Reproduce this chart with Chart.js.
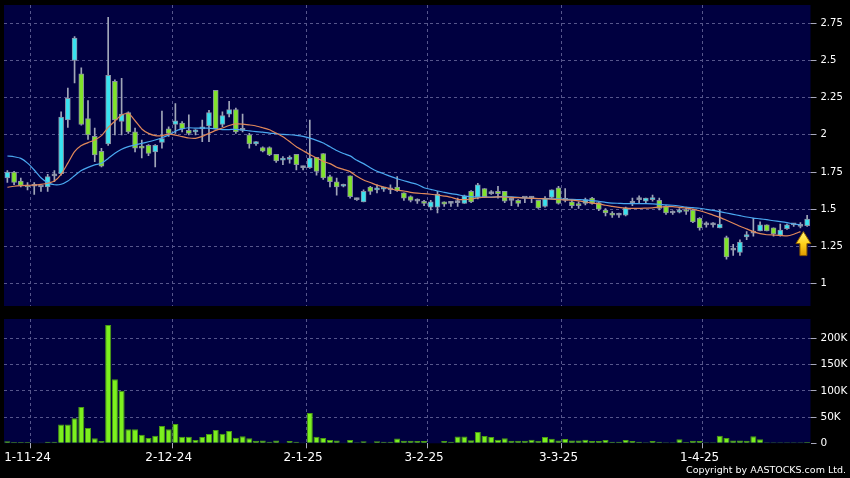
<!DOCTYPE html>
<html>
<head>
<meta charset="utf-8">
<script src="https://cdn.jsdelivr.net/npm/chart.js@4.4.1/dist/chart.umd.min.js"></script>
<style>
    html, body { margin: 0; padding: 0; background: #000; }
    #wrap { position: relative; width: 850px; height: 478px; overflow: hidden; background: #000; }
    #priceChart { position: absolute; left: 0; top: 0; }
    #volumeChart { position: absolute; left: 0; top: 312px; }
    #copy { position: absolute; right: 4px; top: 464px; color: #fff; font: 9.5px "DejaVu Sans", sans-serif; white-space: nowrap; }
</style>
</head>
<body>
<div id="wrap">
    <canvas id="priceChart" width="850" height="312"></canvas>
    <canvas id="volumeChart" width="850" height="166"></canvas>
    <div id="copy">Copyright by AASTOCKS.com Ltd.</div>
</div>
<script>
const dates = [
    "28-10-24", "29-10-24", "30-10-24", "31-10-24",
    "1-11-24", "4-11-24", "5-11-24", "6-11-24", "7-11-24", "8-11-24", "11-11-24", "12-11-24", "13-11-24", "14-11-24",
    "15-11-24", "18-11-24", "19-11-24", "20-11-24", "21-11-24", "22-11-24", "25-11-24", "26-11-24", "27-11-24", "28-11-24", "29-11-24",
    "2-12-24", "3-12-24", "4-12-24", "5-12-24", "6-12-24", "9-12-24", "10-12-24", "11-12-24", "12-12-24", "13-12-24",
    "16-12-24", "17-12-24", "18-12-24", "19-12-24", "20-12-24", "23-12-24", "24-12-24", "27-12-24", "30-12-24", "31-12-24",
    "2-1-25", "3-1-25", "6-1-25", "7-1-25", "8-1-25", "9-1-25", "10-1-25", "13-1-25", "14-1-25", "15-1-25",
    "16-1-25", "17-1-25", "20-1-25", "21-1-25", "22-1-25", "23-1-25", "24-1-25", "27-1-25",
    "3-2-25", "4-2-25", "5-2-25", "6-2-25", "7-2-25", "10-2-25", "11-2-25", "12-2-25", "13-2-25", "14-2-25",
    "17-2-25", "18-2-25", "19-2-25", "20-2-25", "21-2-25", "24-2-25", "25-2-25", "26-2-25", "27-2-25", "28-2-25",
    "3-3-25", "4-3-25", "5-3-25", "6-3-25", "7-3-25", "10-3-25", "11-3-25", "12-3-25", "13-3-25", "14-3-25",
    "17-3-25", "18-3-25", "19-3-25", "20-3-25", "21-3-25", "24-3-25", "25-3-25", "26-3-25", "27-3-25", "28-3-25", "31-3-25",
    "1-4-25", "2-4-25", "3-4-25", "7-4-25", "8-4-25", "9-4-25", "10-4-25", "11-4-25",
    "14-4-25", "15-4-25", "16-4-25", "17-4-25", "22-4-25", "23-4-25", "24-4-25", "25-4-25"
];

const opens = [
    1.71, 1.75, 1.69, 1.66, 1.655, 1.65, 1.65, 1.725, 1.74, 2.10,
    2.50, 2.41, 2.11, 1.99, 1.89, 1.94, 2.36, 2.09, 2.15, 2.02,
    1.925, 1.93, 1.885, 1.95, 2.04, 2.07, 2.08, 2.03, 2.02, 2.04,
    2.06, 2.30, 2.07, 2.14, 2.17, 2.03, 2.00, 1.94, 1.915, 1.915,
    1.87, 1.83, 1.835, 1.87, 1.78, 1.78, 1.85, 1.875, 1.72, 1.685,
    1.655, 1.725, 1.565, 1.55, 1.65, 1.63, 1.635, 1.63, 1.65, 1.61,
    1.585, 1.555, 1.55, 1.515, 1.515, 1.55, 1.54, 1.545, 1.54, 1.62,
    1.58, 1.64, 1.605, 1.62, 1.62, 1.56, 1.56, 1.575, 1.575, 1.56,
    1.52, 1.58, 1.645, 1.56, 1.55, 1.535, 1.54, 1.575, 1.545, 1.495,
    1.475, 1.46, 1.46, 1.54, 1.565, 1.555, 1.565, 1.56, 1.52, 1.475,
    1.48, 1.495, 1.495, 1.44, 1.395, 1.395, 1.375, 1.31, 1.225, 1.21,
    1.315, 1.34, 1.355, 1.395, 1.375, 1.325, 1.37, 1.395, 1.385, 1.39
];
const highs = [
    1.76, 1.755, 1.71, 1.68, 1.68, 1.655, 1.735, 1.76, 2.155, 2.315,
    2.66, 2.45, 2.23, 2.045, 1.91, 2.79, 2.37, 2.38, 2.155, 2.045,
    1.965, 1.935, 1.935, 2.16, 2.055, 2.21, 2.09, 2.135, 2.035, 2.10,
    2.165, 2.30, 2.155, 2.225, 2.18, 2.14, 2.01, 1.955, 1.92, 1.92,
    1.87, 1.855, 1.86, 1.87, 1.79, 2.10, 1.85, 1.875, 1.73, 1.71,
    1.67, 1.725, 1.575, 1.63, 1.655, 1.665, 1.65, 1.665, 1.72, 1.61,
    1.59, 1.57, 1.56, 1.56, 1.62, 1.55, 1.55, 1.575, 1.595, 1.625,
    1.675, 1.64, 1.625, 1.655, 1.62, 1.575, 1.565, 1.58, 1.585, 1.56,
    1.585, 1.63, 1.655, 1.64, 1.56, 1.55, 1.575, 1.58, 1.55, 1.505,
    1.485, 1.475, 1.515, 1.575, 1.59, 1.575, 1.595, 1.575, 1.525, 1.49,
    1.505, 1.51, 1.50, 1.445, 1.415, 1.41, 1.495, 1.32, 1.265, 1.295,
    1.35, 1.44, 1.415, 1.395, 1.375, 1.40, 1.40, 1.405, 1.41, 1.46
];
const lows = [
    1.68, 1.665, 1.65, 1.63, 1.60, 1.62, 1.62, 1.685, 1.73, 2.05,
    2.35, 2.065, 1.97, 1.82, 1.785, 1.93, 2.00, 2.00, 2.01, 1.885,
    1.845, 1.86, 1.785, 1.91, 1.99, 2.01, 2.02, 2.00, 2.00, 1.955,
    1.955, 2.04, 2.055, 2.12, 2.01, 2.02, 1.91, 1.93, 1.885, 1.86,
    1.815, 1.80, 1.81, 1.765, 1.765, 1.775, 1.73, 1.70, 1.65, 1.595,
    1.65, 1.575, 1.56, 1.55, 1.60, 1.61, 1.62, 1.605, 1.62, 1.56,
    1.55, 1.54, 1.525, 1.495, 1.475, 1.52, 1.52, 1.52, 1.54, 1.545,
    1.57, 1.58, 1.60, 1.575, 1.545, 1.525, 1.52, 1.545, 1.545, 1.505,
    1.515, 1.575, 1.535, 1.55, 1.51, 1.505, 1.53, 1.535, 1.49, 1.455,
    1.445, 1.445, 1.455, 1.525, 1.545, 1.545, 1.555, 1.495, 1.465, 1.465,
    1.475, 1.465, 1.41, 1.36, 1.38, 1.38, 1.375, 1.165, 1.19, 1.19,
    1.295, 1.32, 1.355, 1.355, 1.32, 1.32, 1.365, 1.385, 1.375, 1.385
];
const closes = [
    1.75, 1.68, 1.66, 1.65, 1.655, 1.65, 1.72, 1.725, 2.12, 2.245,
    2.65, 2.07, 2.00, 1.865, 1.79, 2.40, 2.10, 2.14, 2.02, 1.91,
    1.91, 1.875, 1.93, 1.975, 2.01, 2.095, 2.04, 2.01, 2.03, 2.05,
    2.15, 2.04, 2.13, 2.17, 2.02, 2.03, 1.94, 1.955, 1.89, 1.865,
    1.825, 1.84, 1.84, 1.80, 1.78, 1.845, 1.755, 1.71, 1.685, 1.65,
    1.665, 1.585, 1.565, 1.62, 1.62, 1.64, 1.64, 1.63, 1.625, 1.575,
    1.56, 1.555, 1.54, 1.55, 1.60, 1.535, 1.54, 1.545, 1.59, 1.55,
    1.665, 1.585, 1.605, 1.605, 1.555, 1.56, 1.54, 1.575, 1.575, 1.51,
    1.575, 1.63, 1.54, 1.56, 1.525, 1.525, 1.565, 1.54, 1.50, 1.475,
    1.46, 1.46, 1.51, 1.54, 1.565, 1.575, 1.575, 1.505, 1.475, 1.475,
    1.495, 1.485, 1.415, 1.375, 1.395, 1.395, 1.40, 1.18, 1.225, 1.28,
    1.33, 1.34, 1.395, 1.355, 1.335, 1.36, 1.395, 1.395, 1.385, 1.435
];

const ma10 = [
    1.648, 1.655, 1.659, 1.661, 1.663, 1.668, 1.675, 1.69, 1.735, 1.81,
    1.887, 1.928, 1.948, 1.966, 1.995, 2.05, 2.093, 2.134, 2.145, 2.095,
    2.04, 2.01, 1.995, 1.995, 2.005, 1.999, 1.988, 1.979, 1.977, 1.99,
    2.01, 2.03, 2.046, 2.063, 2.074, 2.073, 2.067, 2.06, 2.048, 2.035,
    2.012, 1.988, 1.955, 1.92, 1.894, 1.868, 1.846, 1.822, 1.807, 1.783,
    1.768, 1.753, 1.722, 1.697, 1.68, 1.662, 1.65, 1.638, 1.628, 1.623,
    1.614, 1.608, 1.605, 1.601, 1.596, 1.589, 1.581, 1.567, 1.565, 1.569,
    1.576, 1.581, 1.581, 1.583, 1.582, 1.58, 1.578, 1.576, 1.574, 1.572,
    1.57, 1.568, 1.565, 1.563, 1.561, 1.556, 1.549, 1.542, 1.536, 1.527,
    1.52, 1.513, 1.508, 1.506, 1.506, 1.508, 1.51, 1.515, 1.518, 1.518,
    1.513, 1.508, 1.501, 1.49, 1.477, 1.461, 1.446, 1.426, 1.406, 1.386,
    1.368, 1.35, 1.336, 1.329, 1.327, 1.325, 1.321, 1.332, 1.35, null
];
const ma20 = [
    1.858, 1.853, 1.842, 1.81, 1.764, 1.712, 1.679, 1.665, 1.668, 1.69,
    1.726, 1.76, 1.782, 1.798, 1.809, 1.842, 1.876, 1.903, 1.921, 1.932,
    1.943, 1.954, 1.966, 1.981, 1.999, 2.025, 2.04, 2.048, 2.045, 2.045,
    2.045, 2.04, 2.036, 2.036, 2.037, 2.033, 2.027, 2.022, 2.018, 2.012,
    2.008, 2.003, 2.001, 1.997, 1.99, 1.978, 1.963, 1.945, 1.92, 1.895,
    1.875, 1.859, 1.829, 1.807, 1.779, 1.756, 1.739, 1.721, 1.705, 1.692,
    1.679, 1.667, 1.645, 1.634, 1.623, 1.614, 1.605, 1.598, 1.589, 1.585,
    1.583, 1.582, 1.582, 1.583, 1.587, 1.583, 1.58, 1.576, 1.574, 1.572,
    1.572, 1.57, 1.57, 1.567, 1.567, 1.565, 1.563, 1.558, 1.554, 1.547,
    1.542, 1.54, 1.538, 1.538, 1.538, 1.538, 1.536, 1.533, 1.529, 1.527,
    1.522, 1.515, 1.511, 1.507, 1.5, 1.493, 1.484, 1.475, 1.466, 1.457,
    1.448, 1.441, 1.436, 1.43, 1.423, 1.417, 1.41, 1.401, 1.395, null
];

const volumes = [
    4000, 2500, 2500, 2500, 1500, 500, 3000, 3000, 36000, 36000,
    47700, 69000, 29000, 9500, 4400, 225600, 122000, 100000, 27000, 27000,
    16500, 10000, 14500, 33000, 26700, 36800, 12600, 12600, 6300, 12000,
    17700, 25400, 18400, 23400, 10700, 13300, 9500, 5000, 5400, 3000,
    5400, 1000, 4400, 3000, 500, 57800, 12600, 10000, 6300, 5400,
    1500, 6300, 2000, 4000, 1000, 4000, 3000, 3000, 9000, 5000,
    5000, 4400, 4400, 1000, 1000, 4400, 3000, 13000, 13000, 6000,
    21600, 14000, 12000, 7000, 9500, 5000, 5000, 5000, 7000, 5000,
    12000, 8500, 5400, 8000, 5400, 5400, 7000, 4400, 4400, 6300,
    3000, 3000, 6300, 4400, 3000, 2000, 4400, 3000, 2000, 2000,
    7600, 2500, 5000, 4400, 2000, 2000, 14500, 10000, 5400, 5400,
    5000, 13400, 7600, 2000, 2000, 2000, 2000, 2000, 2000, 2500
];

const priceTicks = [1, 1.25, 1.5, 1.75, 2, 2.25, 2.5, 2.75];
const volumeTicks = [0, 50000, 100000, 150000, 200000];

const PLOT_BG = "#000040";
const GRID_COLOR = "#56568c";
const TICK_COLOR = "#a8a8bc";
const UP_COLOR = "#38e2f0";
const DOWN_COLOR = "#80e42a";
const FLAT_COLOR = "#9aa2b4";
const FONT = "DejaVu Sans";

function monthOf(label) {
    return label ? label.split("-")[1] : null;
}

function isMonthStart(i) {
    return i > 0 && i < dates.length && monthOf(dates[i]) !== monthOf(dates[i - 1]);
}

// navy panel behind the plot area
const plotBackground = {
    id: "plotBackground",
    beforeDraw(chart) {
        const { ctx, chartArea } = chart;
        ctx.save();
        ctx.fillStyle = PLOT_BG;
        ctx.fillRect(chartArea.left, chartArea.top, chartArea.right - chartArea.left, chartArea.bottom - chartArea.top);
        ctx.restore();
    }
};

// yellow arrow under the end of the short moving average
const lastArrow = {
    id: "lastArrow",
    afterDatasetsDraw(chart) {
        let i = ma10.length - 1;
        while (i > 0 && ma10[i] == null) i--;
        const x = chart.scales.x.getPixelForValue(i) + 3;
        const tip = chart.scales.y.getPixelForValue(ma10[i]);
        const ctx = chart.ctx;
        ctx.save();
        const grad = ctx.createLinearGradient(0, tip, 0, tip + 24);
        grad.addColorStop(0, "#fff27a");
        grad.addColorStop(0.5, "#ffd21c");
        grad.addColorStop(1, "#e09a00");
        ctx.beginPath();
        ctx.moveTo(x, tip);
        ctx.lineTo(x + 7.5, tip + 12);
        ctx.lineTo(x + 3.5, tip + 12);
        ctx.lineTo(x + 3.5, tip + 24);
        ctx.lineTo(x - 3.5, tip + 24);
        ctx.lineTo(x - 3.5, tip + 12);
        ctx.lineTo(x - 7.5, tip + 12);
        ctx.closePath();
        ctx.fillStyle = grad;
        ctx.fill();
        ctx.strokeStyle = "#8a5a00";
        ctx.lineWidth = 1;
        ctx.stroke();
        ctx.restore();
    }
};

function monthGridColor(ctx) {
    return isMonthStart(ctx.index) ? GRID_COLOR : "transparent";
}

function renderPriceChart() {
    const bodyColors = opens.map((o, i) => closes[i] > o ? UP_COLOR : (closes[i] < o ? DOWN_COLOR : FLAT_COLOR));
    new Chart(document.getElementById("priceChart"), {
        type: "bar",
        data: {
            labels: dates,
            datasets: [
                {
                    type: "line",
                    label: "MA10",
                    data: ma10,
                    borderColor: "#e0885a",
                    borderWidth: 1.2,
                    pointRadius: 0,
                    tension: 0.2,
                    order: 0
                },
                {
                    type: "line",
                    label: "MA20",
                    data: ma20,
                    borderColor: "#4aa8f0",
                    borderWidth: 1.2,
                    pointRadius: 0,
                    tension: 0.2,
                    order: 0
                },
                {
                    label: "Body",
                    data: opens.map((o, i) => [o, closes[i]]),
                    backgroundColor: bodyColors,
                    borderColor: "#8a90a4",
                    borderWidth: 1,
                    borderSkipped: false,
                    barThickness: 5,
                    minBarLength: 2,
                    grouped: false,
                    order: 1
                },
                {
                    label: "Wick",
                    data: lows.map((l, i) => [l, highs[i]]),
                    backgroundColor: "#a0a6b8",
                    barThickness: 1,
                    grouped: false,
                    order: 2
                }
            ]
        },
        options: {
            responsive: false,
            animation: false,
            events: [],
            layout: { padding: { top: 5, left: 4, right: 0, bottom: 6 } },
            plugins: { legend: { display: false }, tooltip: { enabled: false } },
            scales: {
                x: {
                    offset: true,
                    grid: { offset: true, color: monthGridColor, drawTicks: false },
                    border: { display: false, dash: [3, 3] },
                    ticks: { display: false, autoSkip: false },
                    afterFit: (s) => { s.height = 0; s.paddingLeft = 0; s.paddingRight = 0; }
                },
                y: {
                    position: "right",
                    min: 0.85,
                    max: 2.873,
                    afterBuildTicks: (s) => { s.ticks = priceTicks.map(v => ({ value: v })); },
                    afterFit: (s) => { s.width = 39.5; s.paddingTop = 0; s.paddingBottom = 0; },
                    grid: { color: GRID_COLOR, tickColor: TICK_COLOR, tickLength: 6, tickBorderDash: [] },
                    border: { display: false, dash: [3, 3] },
                    ticks: {
                        color: "#ffffff",
                        padding: 4,
                        font: { family: FONT, size: 10 },
                        callback: (v) => String(v)
                    }
                }
            }
        },
        plugins: [plotBackground, lastArrow]
    });
}

function renderVolumeChart() {
    new Chart(document.getElementById("volumeChart"), {
        type: "bar",
        data: {
            labels: dates,
            datasets: [{
                label: "Volume",
                data: volumes,
                backgroundColor: "#7cf01e",
                borderColor: "#4a9c12",
                borderWidth: 1,
                barPercentage: 0.9,
                categoryPercentage: 1
            }]
        },
        options: {
            responsive: false,
            animation: false,
            events: [],
            layout: { padding: { top: 7, left: 4, right: 0, bottom: 0 } },
            plugins: { legend: { display: false }, tooltip: { enabled: false } },
            scales: {
                x: {
                    offset: true,
                    grid: {
                        offset: true,
                        color: monthGridColor,
                        tickColor: (ctx) => isMonthStart(ctx.index) ? TICK_COLOR : "transparent",
                        tickLength: 5,
                        tickBorderDash: []
                    },
                    border: { display: false, dash: [3, 3] },
                    ticks: {
                        autoSkip: false,
                        maxRotation: 0,
                        minRotation: 0,
                        padding: 2,
                        labelOffset: -6.7,
                        color: "#ffffff",
                        font: { family: FONT, size: 12 },
                        callback: (v, i) => isMonthStart(i) ? dates[i] : ""
                    },
                    afterFit: (s) => { s.height = 34.7; s.paddingLeft = 0; s.paddingRight = 0; }
                },
                y: {
                    position: "right",
                    min: 0,
                    max: 237000,
                    afterBuildTicks: (s) => { s.ticks = volumeTicks.map(v => ({ value: v })); },
                    afterFit: (s) => { s.width = 39.5; s.paddingTop = 0; s.paddingBottom = 0; },
                    grid: {
                        color: (ctx) => ctx.tick && ctx.tick.value === 0 ? "transparent" : GRID_COLOR,
                        tickColor: TICK_COLOR,
                        tickLength: 6,
                        tickBorderDash: []
                    },
                    border: { display: false, dash: [3, 3] },
                    ticks: {
                        color: "#ffffff",
                        padding: 4,
                        font: { family: FONT, size: 10.5 },
                        callback: (v) => v === 0 ? "0" : (v / 1000) + "K"
                    }
                }
            }
        },
        plugins: [plotBackground]
    });
}

renderPriceChart();
renderVolumeChart();
</script>
</body>
</html>
